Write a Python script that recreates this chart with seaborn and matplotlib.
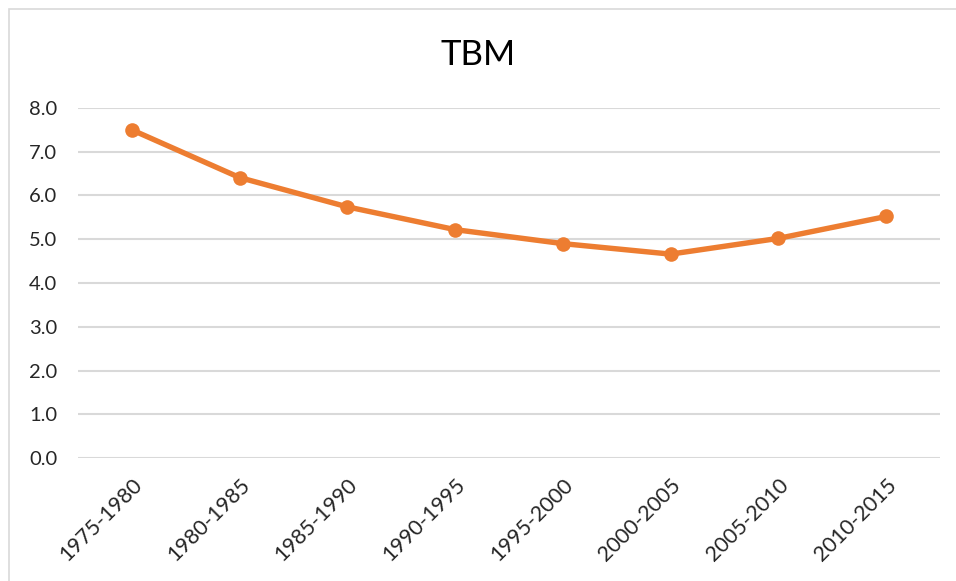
from matplotlib import pyplot as plt
from matplotlib.patches import Rectangle
import pandas as pd
import seaborn as sns

periods = ["1975-1980", "1980-1985", "1985-1990", "1990-1995",
           "1995-2000", "2000-2005", "2005-2010", "2010-2015"]
tbm = [7.50, 6.41, 5.74, 5.22, 4.90, 4.66, 5.02, 5.52]
y_ticks = [0, 1, 2, 3, 4, 5, 6, 7, 8]


def tbm_plot(fig_location: str = None):
    """
    Plot TBM line chart
    """
    df = pd.DataFrame({'period': periods, 'tbm': tbm})

    sns.set_style('white')
    plt.rcParams['font.family'] = ['Lato', 'DejaVu Sans']

    fig = plt.figure(figsize=(9.56, 5.81), dpi=100)
    ax = fig.add_axes([78 / 956, 1 - 458 / 581, (940 - 78) / 956, (458 - 108) / 581])

    sns.lineplot(x='period', y='tbm', data=df, ax=ax, color='#ED7D31',
                 linewidth=3.9, marker='o', markersize=10.5, markeredgewidth=0,
                 sort=False)

    ax.set_xlim(-0.5, len(periods) - 0.5)
    ax.set_ylim(0, 8)
    ax.set_yticks(y_ticks)
    ax.set_yticklabels([f'{v:.1f}' for v in y_ticks], fontsize=14.5, color='#262626')
    ax.set_xticks(range(len(periods)))
    ax.set_xticklabels(periods, rotation=45, ha='right', rotation_mode='anchor',
                       fontsize=15.5, color='#262626')
    ax.tick_params(axis='y', length=0, pad=15)
    ax.tick_params(axis='x', length=0, pad=12)
    ax.grid(axis='y', color='#d9d9d9', linewidth=1.5)
    ax.set_axisbelow(True)
    for s in ax.spines.values():
        s.set_visible(False)
    ax.set(xlabel='', ylabel='')

    fig.text(0.5, 1 - 55 / 581, 'TBM', ha='center', va='center', fontsize=25,
             color='#000000')

    fig.patches.append(Rectangle((9 / 956, -0.1), 1.0, 1 - 9 / 581 + 0.1,
                                 transform=fig.transFigure, fill=False,
                                 edgecolor='#d9d9d9', linewidth=1.2))

    if fig_location:
        plt.savefig(fig_location, dpi=100)


if __name__ == "__main__":
    tbm_plot('out.png')
